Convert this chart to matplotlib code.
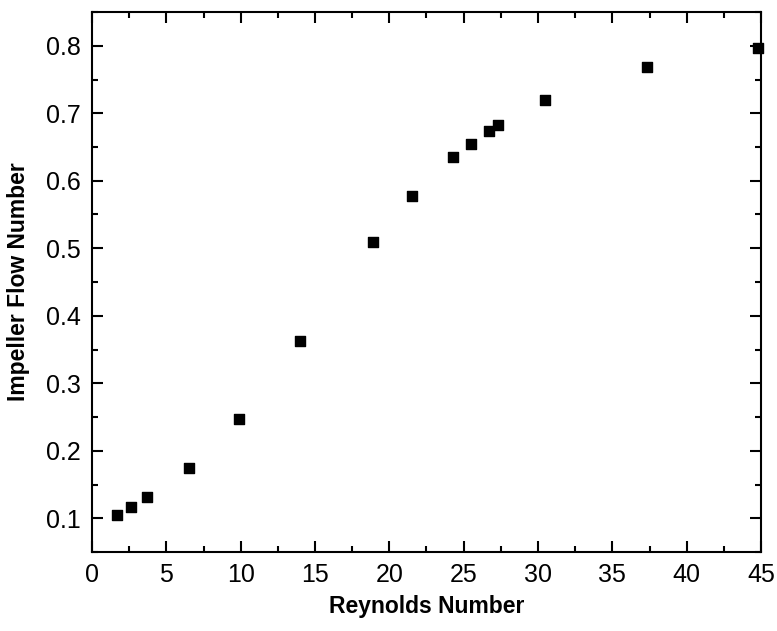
import matplotlib
matplotlib.use('Agg')
import matplotlib.pyplot as plt
from matplotlib.ticker import MultipleLocator

# Reynolds number vs impeller flow number
reynolds = [1.7, 2.6, 3.7, 6.5, 9.9, 14.0, 18.9, 21.5, 24.3, 25.5, 26.7, 27.3, 30.5, 37.3, 44.8]
flow_number = [0.105, 0.117, 0.132, 0.175, 0.247, 0.363, 0.510, 0.577, 0.635, 0.655,
               0.674, 0.682, 0.720, 0.769, 0.796]

plt.rcParams['font.family'] = ['Liberation Sans', 'DejaVu Sans']

fig = plt.figure(figsize=(7.77, 6.31), dpi=100)
ax = fig.add_axes([92 / 777, 1 - 552 / 631, 669 / 777, 540 / 631])

ax.scatter(reynolds, flow_number, marker='s', s=55, color='black', clip_on=False, zorder=3)

ax.set_xlim(0, 45)
ax.set_ylim(0.05, 0.85)
ax.xaxis.set_major_locator(MultipleLocator(5))
ax.xaxis.set_minor_locator(MultipleLocator(2.5))
ax.yaxis.set_minor_locator(MultipleLocator(0.05))
ax.set_yticks([0.1, 0.2, 0.3, 0.4, 0.5, 0.6, 0.7, 0.8])
ax.set_yticklabels(['0.1', '0.2', '0.3', '0.4', '0.5', '0.6', '0.7', '0.8'])

ax.tick_params(which='both', direction='in', top=True, right=True, width=1.5)
ax.tick_params(which='major', length=8, labelsize=18, pad=8)
ax.tick_params(which='minor', length=4)
for s in ax.spines.values():
    s.set_linewidth(1.5)

ax.set_xlabel('Reynolds Number', fontsize=16.5, fontweight='bold', va='center')
ax.set_ylabel('Impeller Flow Number', fontsize=16.5, fontweight='bold', va='center')
ax.xaxis.set_label_coords(0.5, -55 / 540)
ax.yaxis.set_label_coords(-74 / 669, 0.5)

fig.savefig('out.png', dpi=100)
